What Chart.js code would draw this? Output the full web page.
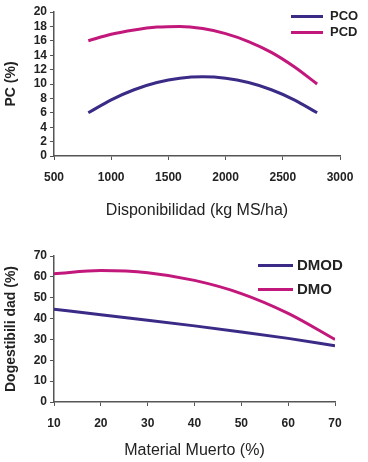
<!DOCTYPE html>
<html>
<head>
<meta charset="utf-8">
<script src="https://cdn.jsdelivr.net/npm/chart.js@4.4.1/dist/chart.umd.min.js"></script>
<style>
  body { margin: 0; background: #fff; width: 368px; height: 462px; overflow: hidden; position: relative; font-family: "Liberation Sans", Arial, sans-serif; }
  .box { position: absolute; left: 0; width: 368px; }
  .leg { position: absolute; font-weight: bold; color: #222; }
  .leg span.ln { position: absolute; height: 3px; }
  .leg span.tx { position: absolute; white-space: nowrap; }
</style>
</head>
<body>
<div class="box" style="top:0;height:220px"><canvas id="chart1" width="368" height="220"></canvas></div>
<div class="box" style="top:230px;height:232px"><canvas id="chart2" width="368" height="232"></canvas></div>

<div class="leg" style="left:0;top:0;font-size:13px">
  <span class="ln" style="left:291px;top:15px;width:32px;background:#3b2a86"></span>
  <span class="tx" style="left:330px;top:8px">PCO</span>
  <span class="ln" style="left:291px;top:31px;width:32px;background:#c2187c"></span>
  <span class="tx" style="left:330px;top:24px">PCD</span>
</div>
<div class="leg" style="left:0;top:0;font-size:15px">
  <span class="ln" style="left:258px;top:264px;width:35px;background:#3b2a86"></span>
  <span class="tx" style="left:297px;top:256px">DMOD</span>
  <span class="ln" style="left:258px;top:288px;width:35px;background:#c2187c"></span>
  <span class="tx" style="left:297px;top:280px">DMO</span>
</div>

<script>
// top chart: protein vs availability
const disponibilidad = [800, 1000, 1200, 1400, 1600, 1800, 2000, 2200, 2400, 2600, 2800];
const pco = [6, 7.8, 9.2, 10.2, 10.8, 11, 10.8, 10.2, 9.2, 7.8, 6];
const pcd = [16, 16.9, 17.5, 17.9, 18, 17.7, 17, 15.9, 14.4, 12.4, 10];

// bottom chart: digestibility vs dead material
const materialMuerto = [10, 20, 30, 40, 50, 60, 70];
const dmod = [44.5, 41.8, 39.2, 36.5, 33.6, 30.5, 27];
const dmo = [61.5, 63, 62, 58.3, 52, 42.5, 30];

const purple = '#3b2a86';
const pink = '#c2187c';
const axisCol = '#555';
const tickFont = { family: 'Liberation Sans', size: 12, weight: 'bold' };
const xTitleFont = { family: 'Liberation Sans', size: 16 };

function pts(xs, ys) {
    return xs.map((x, i) => ({ x: x, y: ys[i] }));
}

function lineSet(xs, ys, color) {
    return {
        data: pts(xs, ys),
        borderColor: color,
        borderWidth: 3,
        pointRadius: 0,
        fill: false,
        cubicInterpolationMode: 'monotone'
    };
}

function makeChart(id, datasets, xo, yo, pad, xh, yw) {
    return new Chart(document.getElementById(id), {
        type: 'line',
        data: { datasets: datasets },
        options: {
            responsive: false,
            animation: false,
            layout: { padding: pad },
            plugins: { legend: { display: false }, tooltip: { enabled: false } },
            scales: {
                x: {
                    type: 'linear',
                    min: xo.min, max: xo.max,
                    border: { color: axisCol, width: 1.5 },
                    grid: { drawOnChartArea: false, tickLength: 4, color: axisCol },
                    ticks: { stepSize: xo.step, autoSkip: false, color: '#222', font: tickFont, padding: 10, maxRotation: 0,
                             callback: v => String(v) },
                    title: { display: true, text: xo.title, color: '#222', font: xTitleFont, padding: { top: 0, bottom: xo.bpad } },
                    afterFit: s => { s.height = xh; }
                },
                y: {
                    min: yo.min, max: yo.max,
                    border: { color: axisCol, width: 1.5 },
                    grid: { drawOnChartArea: false, tickLength: 4, color: axisCol },
                    ticks: { stepSize: yo.step, autoSkip: false, color: '#222', font: tickFont, padding: 3 },
                    title: { display: true, text: yo.title, color: '#222', font: { family: 'Liberation Sans', size: 14, weight: 'bold' }, padding: { top: 3, bottom: 0 } },
                    afterFit: s => { s.width = yw; }
                }
            }
        }
    });
}

makeChart('chart1',
    [lineSet(disponibilidad, pco, purple), lineSet(disponibilidad, pcd, pink)],
    { min: 500, max: 3000, step: 500, title: 'Disponibilidad (kg MS/ha)', bpad: 0 },
    { min: 0, max: 20, step: 2, title: 'PC (%)' },
    { top: 12, right: 28, left: 0, bottom: 0 }, 64, 54);

makeChart('chart2',
    [lineSet(materialMuerto, dmod, purple), lineSet(materialMuerto, dmo, pink)],
    { min: 10, max: 70, step: 10, title: 'Material Muerto (%)', bpad: 2 },
    { min: 0, max: 70, step: 10, title: 'Dogestibili dad (%)' },
    { top: 26, right: 33, left: 0, bottom: 0 }, 60, 54);
</script>
</body>
</html>
